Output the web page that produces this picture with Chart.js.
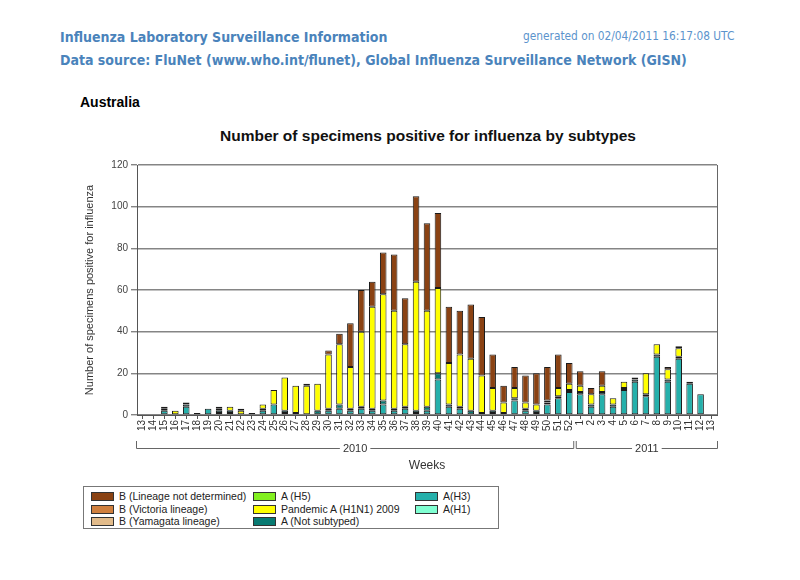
<!DOCTYPE html>
<html>
<head>
<meta charset="utf-8">
<script src="https://cdn.jsdelivr.net/npm/chart.js@4.4.1/dist/chart.umd.min.js"></script>
<style>
  body { margin: 0; background: #fff; width: 800px; height: 580px; position: relative; overflow: hidden; font-family: "Liberation Sans", Arial, sans-serif; }
  .hdr { position: absolute; color: #4a83bb; font-family: "DejaVu Sans Condensed", "DejaVu Sans", sans-serif; font-weight: bold; font-size: 14px; white-space: nowrap; }
  #gen { position: absolute; left: 523px; top: 29px; color: #5b93cc; font-family: "DejaVu Sans Condensed", sans-serif; font-size: 11.8px; white-space: nowrap; }
  #country { position: absolute; left: 80px; top: 94px; font-weight: bold; font-size: 14px; color: #000; }
  #ctitle { position: absolute; left: 0; width: 856px; top: 127px; text-align: center; font-weight: bold; font-size: 15.5px; color: #111; }
  #wrap { position: absolute; left: 0; top: 150px; width: 800px; height: 330px; }
  #legend { position: absolute; left: 83px; top: 486px; width: 416px; height: 43px; border: 1px solid #777; box-sizing: border-box; }
  .item { position: absolute; font-size: 10.5px; color: #222; white-space: nowrap; line-height: 12px; }
  .sw { display: inline-block; width: 21px; height: 7px; border: 1px solid #333; vertical-align: -1px; margin-right: 5px; }
</style>
</head>
<body>
<div class="hdr" style="left:60px; top:29px;">Influenza Laboratory Surveillance Information</div>
<div id="gen">generated on 02/04/2011 16:17:08 UTC</div>
<div class="hdr" style="left:60px; top:52px;">Data source: FluNet (www.who.int/flunet), Global Influenza Surveillance Network (GISN)</div>
<div id="country">Australia</div>
<div id="ctitle">Number of specimens positive for influenza by subtypes</div>
<div id="wrap"><canvas id="chart" width="800" height="330"></canvas></div>
<div id="legend"></div>
<script>
// weeks 13/2010 .. 13/2011
const weeks = ['13','14','15','16','17','18','19','20','21','22','23','24','25','26','27','28','29','30','31','32','33','34','35','36','37','38','39','40','41','42','43','44','45','46','47','48','49','50','51','52',
               '1','2','3','4','5','6','7','8','9','10','11','12','13'];
const years = [{ label: '2010', from: 0, to: 39 }, { label: '2011', from: 40, to: 52 }];
const yTicks = [0, 20, 40, 60, 80, 100, 120];

const aH3 =        [0,0,2,0,4,1,3,1,1,0,0,2,5,1,0,0,0,2,3,2,3,2,5,2,3,1,2,17,4,3,0,0,1,0,7,2,1,5,8,11, 10,4,10,4,12,16,9,28,16,27,15,10,0];
const aNotSub =    [0,0,1,0,1,0,0,1,1,0,0,1,0,1,1,0,2,1,2,1,1,1,2,1,1,1,2,3,1,1,2,1,1,1,1,1,1,1,1,1, 1,1,1,1,1,1,1,1,1,1,1,0,0];
const aH1 =        [0,0,0,0,0,0,0,0,0,0,0,0,0,0,0,0,0,0,0,0,0,0,0,0,0,0,0,0,0,0,0,0,0,0,0,0,0,0,0,0, 0,0,0,0,0,0,0,0,0,0,0,0,0];
const aH5 =        [0,0,0,0,0,0,0,0,0,0,0,0,0,0,0,0,0,0,0,0,0,0,0,0,0,0,0,0,0,0,0,0,0,0,0,0,0,0,0,0, 0,0,0,0,0,0,0,0,0,0,0,0,0];
const pandemic =   [0,0,0,2,0,0,0,1,2,2,0,2,7,16,13,14,13,26,29,20,36,49,51,47,30,62,46,41,20,25,25,18,11,5,5,3,3,1,4,3, 3,5,3,3,3,0,10,5,5,4,0,0,0];
const bYamagata =  [0,0,0,0,0,0,0,0,0,0,0,0,0,0,0,0,0,0,0,0,0,0,0,0,0,0,0,0,0,0,0,0,0,0,0,0,0,0,0,0, 0,0,0,0,0,0,0,0,0,0,0,0,0];
const bVictoria =  [0,0,0,0,0,0,0,0,0,0,0,0,0,0,0,0,0,0,0,0,0,0,0,0,0,0,0,0,0,0,0,0,0,0,0,0,0,0,0,0, 0,0,0,0,0,0,0,0,0,0,0,0,0];
const bNotDet =    [0,0,1,0,1,0,0,1,0,1,1,0,0,0,0,1,0,2,5,21,20,12,20,27,22,41,42,36,27,21,26,28,16,8,10,13,15,16,16,10, 7,3,7,0,0,1,0,0,1,1,0,0,0];

// stacking order bottom -> top
const series = [
  { label: 'A(H3)', data: aH3, color: '#25b0ab' },
  { label: 'A (Not subtyped)', data: aNotSub, color: '#087a72' },
  { label: 'A(H1)', data: aH1, color: '#80ffd2' },
  { label: 'A (H5)', data: aH5, color: '#82f020' },
  { label: 'Pandemic A (H1N1) 2009', data: pandemic, color: '#ffff00' },
  { label: 'B (Yamagata lineage)', data: bYamagata, color: '#e2bb8a' },
  { label: 'B (Victoria lineage)', data: bVictoria, color: '#d0803e' },
  { label: 'B (Lineage not determined)', data: bNotDet, color: '#8a4213' }
];
// legend layout, column by column
const legendOrder = [
  'B (Lineage not determined)', 'B (Victoria lineage)', 'B (Yamagata lineage)',
  'A (H5)', 'Pandemic A (H1N1) 2009', 'A (Not subtyped)',
  'A(H3)', 'A(H1)'
];

const legend = document.getElementById('legend');
legendOrder.forEach((name, i) => {
  const s = series.find(d => d.label === name);
  const col = Math.floor(i / 3), row = i % 3;
  const el = document.createElement('div');
  el.className = 'item';
  el.style.left = (7 + col * 162) + 'px';
  el.style.top = (3 + row * 12.5) + 'px';
  el.innerHTML = '<span class="sw" style="background:' + s.color + '"></span>' + name;
  legend.appendChild(el);
});

// year brackets under the week labels + right frame line
const yearBrackets = {
  id: 'yearBrackets',
  afterDraw(chart) {
    const { ctx, chartArea } = chart;
    const x = chart.scales.x;
    const half = (x.getPixelForValue(1) - x.getPixelForValue(0)) / 2;
    const y = 298;
    ctx.save();
    ctx.strokeStyle = '#666';
    ctx.lineWidth = 1;
    ctx.beginPath();
    ctx.moveTo(chartArea.right + 0.5, chartArea.top);
    ctx.lineTo(chartArea.right + 0.5, chartArea.bottom);
    ctx.stroke();
    ctx.font = '11px "Liberation Sans", Arial, sans-serif';
    ctx.fillStyle = '#333';
    ctx.textAlign = 'center';
    ctx.textBaseline = 'middle';
    years.forEach((yr, k) => {
      const l = x.getPixelForValue(yr.from) - half + (k ? 1.5 : -0.5);
      const r = x.getPixelForValue(yr.to) + half - (k ? -0.5 : 1);
      const c = (l + r) / 2;
      const tw = ctx.measureText(yr.label).width / 2 + 3;
      ctx.beginPath();
      ctx.moveTo(l, y - 7); ctx.lineTo(l, y + 0.5); ctx.lineTo(c - tw, y + 0.5);
      ctx.moveTo(c + tw, y + 0.5); ctx.lineTo(r, y + 0.5); ctx.lineTo(r, y - 7);
      ctx.stroke();
      ctx.fillText(yr.label, c, y + 1);
    });
    ctx.restore();
  }
};

new Chart(document.getElementById('chart'), {
  type: 'bar',
  data: {
    labels: weeks,
    datasets: series.map(s => ({
      label: s.label,
      data: s.data,
      backgroundColor: s.color,
      borderColor: '#1a1a1a',
      borderWidth: 1,
      borderSkipped: false,
      barPercentage: 0.6,
      categoryPercentage: 1
    }))
  },
  options: {
    responsive: false,
    animation: false,
    layout: { padding: { top: 15, right: 83, left: 0, bottom: 0 } },
    plugins: { legend: { display: false }, tooltip: { enabled: false } },
    scales: {
      x: {
        stacked: true,
        afterFit: (s) => { s.height = 65; },
        grid: { display: true, drawOnChartArea: false, offset: false, tickLength: 4, color: '#555' },
        border: { display: true, color: '#555', width: 1 },
        ticks: { autoSkip: false, minRotation: 90, maxRotation: 90, padding: 1, color: '#333',
                 font: { family: '"Liberation Sans", Arial, sans-serif', size: 10 } },
        title: { display: true, text: 'Weeks', color: '#333', padding: { top: 0, bottom: 7 },
                 font: { family: '"Liberation Sans", Arial, sans-serif', size: 12 } }
      },
      y: {
        stacked: true,
        min: 0,
        max: 120,
        afterFit: (s) => { s.width = 137; },
        afterBuildTicks: (s) => { s.ticks = yTicks.map(v => ({ value: v })); },
        grid: { color: '#858585', lineWidth: 1.4, tickLength: 6 },
        border: { display: true, color: '#555', width: 1 },
        ticks: { padding: 3, color: '#444', font: { family: '"Liberation Sans", Arial, sans-serif', size: 10 } },
        title: { display: true, text: 'Number of specimens positive for influenza', color: '#333',
                 padding: { top: 83, bottom: 0 }, font: { family: '"Liberation Sans", Arial, sans-serif', size: 11 } }
      }
    }
  },
  plugins: [yearBrackets]
});
</script>
</body>
</html>
